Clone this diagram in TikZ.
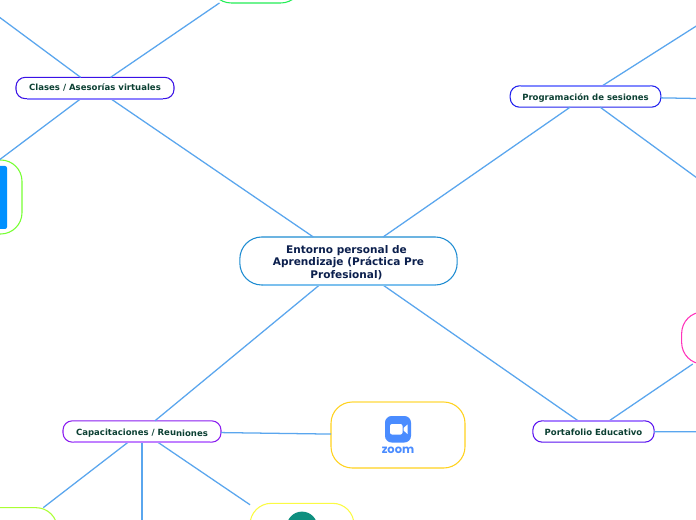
\documentclass[tikz,border=0pt]{standalone}
\usepackage{fontspec}
\setmainfont{DejaVu Sans}
\newfontfamily\logofont{Poppins}
\definecolor{linkc}{HTML}{5AA6EE}
\definecolor{maintext}{HTML}{0B1F4D}
\definecolor{subtext}{HTML}{0C4033}
\definecolor{rootc}{HTML}{1E8CD2}
\definecolor{rootl}{HTML}{7CC0EE}
\definecolor{clasc}{HTML}{3A12E6}
\definecolor{clasl}{HTML}{8C80FF}
\definecolor{progc}{HTML}{2222EE}
\definecolor{progl}{HTML}{8088FF}
\definecolor{capc}{HTML}{8A1CF0}
\definecolor{capl}{HTML}{C080FF}
\definecolor{portc}{HTML}{5A12F0}
\definecolor{portl}{HTML}{A880FF}
\definecolor{zoomc}{HTML}{FFD21E}
\definecolor{zooml}{HTML}{FFE680}
\definecolor{greena}{HTML}{22EE55}
\definecolor{greenb}{HTML}{77FF33}
\definecolor{greenc}{HTML}{AAFF33}
\definecolor{magc}{HTML}{FF33BB}
\definecolor{yelc}{HTML}{FBFB44}
\definecolor{zoomblue}{HTML}{4A8CFF}
\definecolor{iconblue}{HTML}{0090FF}
\definecolor{iconteal}{HTML}{0F8F7F}
\tikzset{
  x=0.75pt,y=-0.75pt,
  link/.style={draw=linkc,line width=0.95pt},
  box/.style={rectangle,fill=white,inner sep=0pt,outer sep=0pt,line width=0.8pt,align=center,font=\bfseries\fontsize{6.4pt}{9pt}\selectfont,text=subtext},
  mainbox/.style={box,draw=rootc,rounded corners=16.5pt,minimum width=163pt,minimum height=36pt,text=maintext,font=\bfseries\fontsize{7.9pt}{9.4pt}\selectfont,text height=27.5pt,text depth=1.2pt},
  subbox/.style={box,draw=#1,rounded corners=7pt,minimum height=16pt,text height=6.2pt,text depth=0.6pt},
  leaf/.style={box,draw=#1,rounded corners=16pt},
  edgeglow/.style={line width=0.8pt},
}
\begin{document}
\begin{tikzpicture}
\useasboundingbox (0,0) rectangle (696,520);
\clip (0,0) rectangle (696,520);
\fill[white] (0,0) rectangle (696,520);
% main nodes
\node[mainbox] (root) at (348.5,261) {Entorno personal de\hspace*{3pt}\\Aprendizaje (Práctica Pre\hspace*{3pt}\\Profesional)\hspace*{3pt}};
\node[subbox=clasc,minimum width=118.5pt,text height=5pt] (clases) at (95,88) {Clases / Asesorías virtuales};
\node[subbox=progc,minimum width=113pt] (prog) at (585.5,96.5) {Programación de sesiones};
\node[subbox=capc,minimum width=118.5pt] (cap) at (142,431.5) {Capacitaciones / Reu\raisebox{-0.6pt}{niones}};
\node[subbox=portc,minimum width=91pt] (port) at (593.5,431.5) {Portafolio Educativo};
% leaf nodes
\node[leaf=zoomc,minimum width=100.5pt,minimum height=49.5pt] (zoom) at (398,435) {};
\node[leaf=greena,minimum width=69pt,minimum height=37.5pt] (topgreen) at (256,-22) {};
\node[leaf=greenb,minimum width=108pt,minimum height=55.5pt] (leftgreen) at (-50,197) {};
\node[leaf=greenc,minimum width=86pt,minimum height=50pt] (botgreen) at (0,541) {};
\node[leaf=yelc,minimum width=78pt,minimum height=55pt] (yellow) at (302,540) {};
\node[leaf=magc,minimum width=74pt,minimum height=39pt] (magenta) at (731,338) {};
% free ends
\coordinate (tl) at (-40,-12);
\coordinate (pa) at (760,-14.5);
\coordinate (pb) at (780,100);
\coordinate (pc) at (760,224);
\coordinate (pd) at (780,432);
\coordinate (cd) at (142,560);
% connectors
\draw[link] (root) -- (clases);
\draw[link] (root) -- (prog);
\draw[link] (root) -- (cap);
\draw[link] (root) -- (port);
\draw[link] (clases) -- (tl);
\draw[link] (clases) -- (topgreen);
\draw[link] (clases) -- (leftgreen);
\draw[link] (prog) -- (pa);
\draw[link] (prog) -- (pb);
\draw[link] (prog) -- (pc);
\draw[link] (port) -- (magenta);
\draw[link] (port) -- (pd);
\draw[link] (cap) -- (zoom);
\draw[link] (cap) -- (cd);
\draw[link] (cap) -- (botgreen);
\draw[link] (cap) -- (yellow);
% lighter edges of the boxes
\draw[rootl,edgeglow] (263,285) -- (435,285);
\draw[clasl,edgeglow] (27,99) -- (163,99);
\draw[progl,edgeglow] (521,86) -- (650,86);
\draw[capl,edgeglow] (74,442) -- (210,442);
\draw[portl,edgeglow] (544,421) -- (643,421);
\draw[zooml,edgeglow] (352,402) -- (444,402);
% icons
\fill[iconblue,rounded corners=1.5pt] (-56,166) rectangle (7,229);
\fill[iconteal] (302,527) circle[radius=15.4];
\fill[zoomblue,rounded corners=5pt] (385,416) rectangle (411,442.5);
\fill[white,rounded corners=1.5pt] (390,424) rectangle (402.5,434.5);
\fill[white] (403.5,428) -- (407.5,424.5) -- (407.5,434) -- (403.5,430.5) -- cycle;
\node[inner sep=0pt,text=zoomblue,font=\logofont\bfseries\fontsize{8.6pt}{10pt}\selectfont] (zoomword) at (398,450) {zoom};
\end{tikzpicture}
\end{document}
